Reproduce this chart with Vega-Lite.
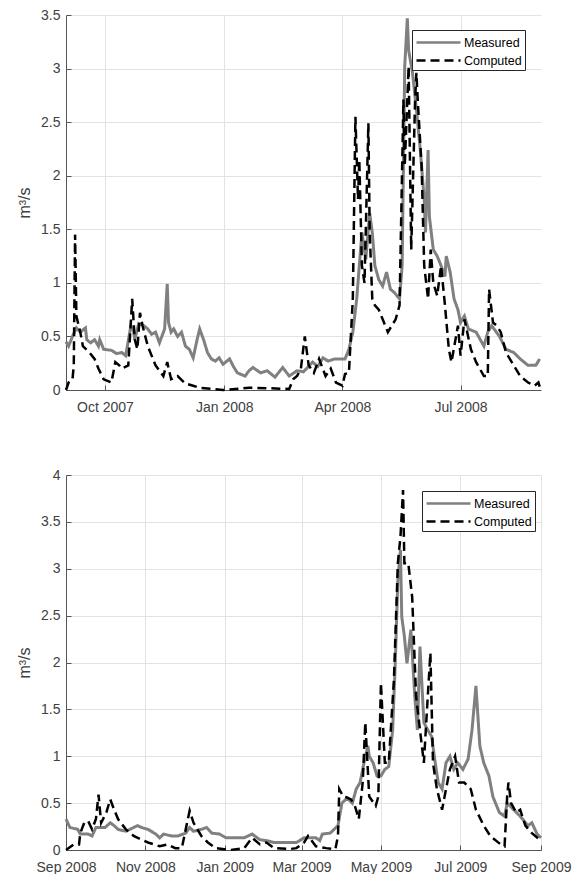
{
"$schema":"https://vega.github.io/schema/vega-lite/v6.json",
"background":"white",
"padding":{"left":16,"top":8,"right":10,"bottom":4},
"bounds":"flush",
"spacing":85,
"config":{"font":"Liberation Sans","view":{"stroke":null},
"axis":{"labelFont":"Liberation Sans","labelFontSize":14,"labelColor":"#404040","titleFont":"Liberation Sans","titleFontSize":16,"titleFontWeight":"normal","titleColor":"#404040","domainColor":"#555555","tickColor":"#555555","gridColor":"#e3e3e3","tickSize":-5,"labelFlush":false,"labelOverlap":false},
"legend":{"orient":"none","title":null,"strokeColor":"#262626","fillColor":"white","padding":3,"symbolType":"M-1,0H4.5","symbolSize":256,"symbolStrokeWidth":2.5,"labelFontSize":12.5,"labelColor":"#000000","rowPadding":2,"labelOffset":30}},
"datasets":{
"top":[
{"d":"2007-09-01","s":"Measured","v":0.45},{"d":"2007-09-03","s":"Measured","v":0.41},{"d":"2007-09-06","s":"Measured","v":0.5},{"d":"2007-09-09","s":"Measured","v":0.58},{"d":"2007-09-12","s":"Measured","v":0.54},{"d":"2007-09-16","s":"Measured","v":0.58},{"d":"2007-09-17","s":"Measured","v":0.47},{"d":"2007-09-20","s":"Measured","v":0.44},{"d":"2007-09-23","s":"Measured","v":0.47},{"d":"2007-09-26","s":"Measured","v":0.41},{"d":"2007-09-27","s":"Measured","v":0.47},{"d":"2007-09-30","s":"Measured","v":0.38},{"d":"2007-10-06","s":"Measured","v":0.37},{"d":"2007-10-10","s":"Measured","v":0.34},{"d":"2007-10-14","s":"Measured","v":0.35},{"d":"2007-10-17","s":"Measured","v":0.32},{"d":"2007-10-21","s":"Measured","v":0.6},{"d":"2007-10-23","s":"Measured","v":0.55},{"d":"2007-10-24","s":"Measured","v":0.47},{"d":"2007-10-27","s":"Measured","v":0.62},{"d":"2007-10-31","s":"Measured","v":0.6},{"d":"2007-11-03","s":"Measured","v":0.57},{"d":"2007-11-06","s":"Measured","v":0.52},{"d":"2007-11-09","s":"Measured","v":0.54},{"d":"2007-11-12","s":"Measured","v":0.44},{"d":"2007-11-16","s":"Measured","v":0.57},{"d":"2007-11-18","s":"Measured","v":0.99},{"d":"2007-11-19","s":"Measured","v":0.63},{"d":"2007-11-21","s":"Measured","v":0.54},{"d":"2007-11-23","s":"Measured","v":0.57},{"d":"2007-11-26","s":"Measured","v":0.5},{"d":"2007-11-29","s":"Measured","v":0.54},{"d":"2007-12-02","s":"Measured","v":0.41},{"d":"2007-12-05","s":"Measured","v":0.38},{"d":"2007-12-08","s":"Measured","v":0.3},{"d":"2007-12-11","s":"Measured","v":0.47},{"d":"2007-12-13","s":"Measured","v":0.57},{"d":"2007-12-16","s":"Measured","v":0.47},{"d":"2007-12-19","s":"Measured","v":0.35},{"d":"2007-12-22","s":"Measured","v":0.29},{"d":"2007-12-25","s":"Measured","v":0.27},{"d":"2007-12-28","s":"Measured","v":0.3},{"d":"2007-12-31","s":"Measured","v":0.24},{"d":"2008-01-05","s":"Measured","v":0.29},{"d":"2008-01-08","s":"Measured","v":0.22},{"d":"2008-01-11","s":"Measured","v":0.16},{"d":"2008-01-17","s":"Measured","v":0.13},{"d":"2008-01-20","s":"Measured","v":0.18},{"d":"2008-01-23","s":"Measured","v":0.21},{"d":"2008-01-29","s":"Measured","v":0.16},{"d":"2008-02-03","s":"Measured","v":0.18},{"d":"2008-02-09","s":"Measured","v":0.12},{"d":"2008-02-15","s":"Measured","v":0.21},{"d":"2008-02-20","s":"Measured","v":0.13},{"d":"2008-02-26","s":"Measured","v":0.18},{"d":"2008-03-02","s":"Measured","v":0.17},{"d":"2008-03-09","s":"Measured","v":0.26},{"d":"2008-03-13","s":"Measured","v":0.22},{"d":"2008-03-17","s":"Measured","v":0.3},{"d":"2008-03-21","s":"Measured","v":0.27},{"d":"2008-03-26","s":"Measured","v":0.29},{"d":"2008-04-03","s":"Measured","v":0.29},{"d":"2008-04-06","s":"Measured","v":0.38},{"d":"2008-04-09","s":"Measured","v":0.54},{"d":"2008-04-12","s":"Measured","v":0.85},{"d":"2008-04-14","s":"Measured","v":1.16},{"d":"2008-04-16","s":"Measured","v":1.47},{"d":"2008-04-19","s":"Measured","v":1.22},{"d":"2008-04-22","s":"Measured","v":1.65},{"d":"2008-04-24","s":"Measured","v":1.47},{"d":"2008-04-26","s":"Measured","v":1.16},{"d":"2008-04-29","s":"Measured","v":1.03},{"d":"2008-05-02","s":"Measured","v":0.97},{"d":"2008-05-05","s":"Measured","v":1.1},{"d":"2008-05-08","s":"Measured","v":0.94},{"d":"2008-05-11","s":"Measured","v":0.91},{"d":"2008-05-15","s":"Measured","v":0.85},{"d":"2008-05-17","s":"Measured","v":1.16},{"d":"2008-05-18","s":"Measured","v":2.09},{"d":"2008-05-19","s":"Measured","v":3.02},{"d":"2008-05-21","s":"Measured","v":3.47},{"d":"2008-05-22","s":"Measured","v":3.17},{"d":"2008-05-25","s":"Measured","v":2.96},{"d":"2008-05-28","s":"Measured","v":2.62},{"d":"2008-05-31","s":"Measured","v":2.24},{"d":"2008-06-03","s":"Measured","v":1.78},{"d":"2008-06-04","s":"Measured","v":1.47},{"d":"2008-06-06","s":"Measured","v":2.24},{"d":"2008-06-07","s":"Measured","v":1.62},{"d":"2008-06-10","s":"Measured","v":1.31},{"d":"2008-06-13","s":"Measured","v":1.25},{"d":"2008-06-16","s":"Measured","v":1.16},{"d":"2008-06-19","s":"Measured","v":1.06},{"d":"2008-06-20","s":"Measured","v":1.25},{"d":"2008-06-23","s":"Measured","v":1.1},{"d":"2008-06-26","s":"Measured","v":0.85},{"d":"2008-06-29","s":"Measured","v":0.75},{"d":"2008-07-01","s":"Measured","v":0.63},{"d":"2008-07-04","s":"Measured","v":0.69},{"d":"2008-07-07","s":"Measured","v":0.57},{"d":"2008-07-13","s":"Measured","v":0.54},{"d":"2008-07-19","s":"Measured","v":0.41},{"d":"2008-07-22","s":"Measured","v":0.54},{"d":"2008-07-25","s":"Measured","v":0.6},{"d":"2008-07-31","s":"Measured","v":0.5},{"d":"2008-08-05","s":"Measured","v":0.38},{"d":"2008-08-11","s":"Measured","v":0.35},{"d":"2008-08-16","s":"Measured","v":0.29},{"d":"2008-08-22","s":"Measured","v":0.23},{"d":"2008-08-28","s":"Measured","v":0.23},{"d":"2008-08-31","s":"Measured","v":0.29},
{"d":"2007-09-01","s":"Computed","v":0},{"d":"2007-09-03","s":"Computed","v":0.07},{"d":"2007-09-06","s":"Computed","v":0.1},{"d":"2007-09-07","s":"Computed","v":0.23},{"d":"2007-09-08","s":"Computed","v":1.45},{"d":"2007-09-09","s":"Computed","v":0.69},{"d":"2007-09-12","s":"Computed","v":0.54},{"d":"2007-09-14","s":"Computed","v":0.41},{"d":"2007-09-19","s":"Computed","v":0.35},{"d":"2007-09-23","s":"Computed","v":0.29},{"d":"2007-09-26","s":"Computed","v":0.2},{"d":"2007-09-30","s":"Computed","v":0.1},{"d":"2007-10-06","s":"Computed","v":0.07},{"d":"2007-10-09","s":"Computed","v":0.26},{"d":"2007-10-12","s":"Computed","v":0.23},{"d":"2007-10-14","s":"Computed","v":0.2},{"d":"2007-10-19","s":"Computed","v":0.23},{"d":"2007-10-22","s":"Computed","v":0.85},{"d":"2007-10-24","s":"Computed","v":0.47},{"d":"2007-10-26","s":"Computed","v":0.38},{"d":"2007-10-28","s":"Computed","v":0.72},{"d":"2007-10-30","s":"Computed","v":0.6},{"d":"2007-11-03","s":"Computed","v":0.41},{"d":"2007-11-09","s":"Computed","v":0.23},{"d":"2007-11-15","s":"Computed","v":0.13},{"d":"2007-11-18","s":"Computed","v":0.26},{"d":"2007-11-21","s":"Computed","v":0.1},{"d":"2007-11-26","s":"Computed","v":0.13},{"d":"2007-12-02","s":"Computed","v":0.06},{"d":"2007-12-08","s":"Computed","v":0.04},{"d":"2007-12-13","s":"Computed","v":0.02},{"d":"2007-12-31","s":"Computed","v":0},{"d":"2008-01-20","s":"Computed","v":0.02},{"d":"2008-01-26","s":"Computed","v":0.02},{"d":"2008-02-20","s":"Computed","v":0.01},{"d":"2008-02-23","s":"Computed","v":0.1},{"d":"2008-02-26","s":"Computed","v":0.13},{"d":"2008-02-29","s":"Computed","v":0.2},{"d":"2008-03-03","s":"Computed","v":0.5},{"d":"2008-03-06","s":"Computed","v":0.23},{"d":"2008-03-10","s":"Computed","v":0.16},{"d":"2008-03-14","s":"Computed","v":0.29},{"d":"2008-03-19","s":"Computed","v":0.13},{"d":"2008-03-23","s":"Computed","v":0.2},{"d":"2008-03-27","s":"Computed","v":0.07},{"d":"2008-04-01","s":"Computed","v":0.04},{"d":"2008-04-03","s":"Computed","v":0.15},{"d":"2008-04-06","s":"Computed","v":0.16},{"d":"2008-04-09","s":"Computed","v":0.85},{"d":"2008-04-11","s":"Computed","v":2.55},{"d":"2008-04-13","s":"Computed","v":1.78},{"d":"2008-04-14","s":"Computed","v":2.15},{"d":"2008-04-16","s":"Computed","v":1.16},{"d":"2008-04-18","s":"Computed","v":1.0},{"d":"2008-04-21","s":"Computed","v":2.49},{"d":"2008-04-22","s":"Computed","v":1.47},{"d":"2008-04-24","s":"Computed","v":0.85},{"d":"2008-04-26","s":"Computed","v":0.79},{"d":"2008-04-29","s":"Computed","v":0.75},{"d":"2008-05-02","s":"Computed","v":0.66},{"d":"2008-05-06","s":"Computed","v":0.54},{"d":"2008-05-09","s":"Computed","v":0.6},{"d":"2008-05-12","s":"Computed","v":0.66},{"d":"2008-05-15","s":"Computed","v":0.79},{"d":"2008-05-18","s":"Computed","v":2.71},{"d":"2008-05-19","s":"Computed","v":2.09},{"d":"2008-05-22","s":"Computed","v":3.02},{"d":"2008-05-24","s":"Computed","v":1.31},{"d":"2008-05-27","s":"Computed","v":2.71},{"d":"2008-05-28","s":"Computed","v":2.96},{"d":"2008-05-29","s":"Computed","v":2.71},{"d":"2008-06-01","s":"Computed","v":2.09},{"d":"2008-06-03","s":"Computed","v":1.16},{"d":"2008-06-06","s":"Computed","v":0.85},{"d":"2008-06-08","s":"Computed","v":1.31},{"d":"2008-06-10","s":"Computed","v":1.0},{"d":"2008-06-13","s":"Computed","v":0.88},{"d":"2008-06-16","s":"Computed","v":1.16},{"d":"2008-06-19","s":"Computed","v":0.79},{"d":"2008-06-22","s":"Computed","v":0.38},{"d":"2008-06-24","s":"Computed","v":0.26},{"d":"2008-06-29","s":"Computed","v":0.6},{"d":"2008-07-01","s":"Computed","v":0.32},{"d":"2008-07-04","s":"Computed","v":0.66},{"d":"2008-07-09","s":"Computed","v":0.38},{"d":"2008-07-13","s":"Computed","v":0.26},{"d":"2008-07-19","s":"Computed","v":0.13},{"d":"2008-07-22","s":"Computed","v":0.13},{"d":"2008-07-23","s":"Computed","v":0.94},{"d":"2008-07-26","s":"Computed","v":0.63},{"d":"2008-07-29","s":"Computed","v":0.6},{"d":"2008-08-01","s":"Computed","v":0.54},{"d":"2008-08-05","s":"Computed","v":0.35},{"d":"2008-08-11","s":"Computed","v":0.23},{"d":"2008-08-16","s":"Computed","v":0.13},{"d":"2008-08-22","s":"Computed","v":0.07},{"d":"2008-08-27","s":"Computed","v":0.04},{"d":"2008-08-30","s":"Computed","v":0.07},{"d":"2008-08-31","s":"Computed","v":0.03}
],
"bot":[
{"d":"2008-09-01","s":"Measured","v":0.33},{"d":"2008-09-04","s":"Measured","v":0.24},{"d":"2008-09-10","s":"Measured","v":0.22},{"d":"2008-09-12","s":"Measured","v":0.17},{"d":"2008-09-18","s":"Measured","v":0.17},{"d":"2008-09-21","s":"Measured","v":0.15},{"d":"2008-09-24","s":"Measured","v":0.24},{"d":"2008-09-27","s":"Measured","v":0.24},{"d":"2008-10-01","s":"Measured","v":0.24},{"d":"2008-10-05","s":"Measured","v":0.29},{"d":"2008-10-08","s":"Measured","v":0.26},{"d":"2008-10-11","s":"Measured","v":0.22},{"d":"2008-10-17","s":"Measured","v":0.2},{"d":"2008-10-23","s":"Measured","v":0.24},{"d":"2008-10-26","s":"Measured","v":0.26},{"d":"2008-10-29","s":"Measured","v":0.24},{"d":"2008-11-03","s":"Measured","v":0.22},{"d":"2008-11-09","s":"Measured","v":0.17},{"d":"2008-11-12","s":"Measured","v":0.13},{"d":"2008-11-15","s":"Measured","v":0.17},{"d":"2008-11-21","s":"Measured","v":0.15},{"d":"2008-11-26","s":"Measured","v":0.15},{"d":"2008-12-02","s":"Measured","v":0.18},{"d":"2008-12-05","s":"Measured","v":0.24},{"d":"2008-12-08","s":"Measured","v":0.2},{"d":"2008-12-14","s":"Measured","v":0.22},{"d":"2008-12-18","s":"Measured","v":0.24},{"d":"2008-12-22","s":"Measured","v":0.18},{"d":"2008-12-28","s":"Measured","v":0.17},{"d":"2009-01-02","s":"Measured","v":0.13},{"d":"2009-01-10","s":"Measured","v":0.13},{"d":"2009-01-16","s":"Measured","v":0.13},{"d":"2009-01-22","s":"Measured","v":0.17},{"d":"2009-01-28","s":"Measured","v":0.11},{"d":"2009-02-02","s":"Measured","v":0.1},{"d":"2009-02-08","s":"Measured","v":0.08},{"d":"2009-02-14","s":"Measured","v":0.08},{"d":"2009-02-25","s":"Measured","v":0.08},{"d":"2009-03-03","s":"Measured","v":0.13},{"d":"2009-03-12","s":"Measured","v":0.13},{"d":"2009-03-15","s":"Measured","v":0.1},{"d":"2009-03-17","s":"Measured","v":0.17},{"d":"2009-03-23","s":"Measured","v":0.18},{"d":"2009-03-26","s":"Measured","v":0.22},{"d":"2009-03-29","s":"Measured","v":0.26},{"d":"2009-04-01","s":"Measured","v":0.5},{"d":"2009-04-04","s":"Measured","v":0.54},{"d":"2009-04-06","s":"Measured","v":0.54},{"d":"2009-04-09","s":"Measured","v":0.5},{"d":"2009-04-12","s":"Measured","v":0.65},{"d":"2009-04-15","s":"Measured","v":0.72},{"d":"2009-04-18","s":"Measured","v":0.93},{"d":"2009-04-21","s":"Measured","v":1.11},{"d":"2009-04-22","s":"Measured","v":1.0},{"d":"2009-04-25","s":"Measured","v":0.93},{"d":"2009-04-28","s":"Measured","v":0.79},{"d":"2009-05-01","s":"Measured","v":0.79},{"d":"2009-05-04","s":"Measured","v":0.86},{"d":"2009-05-07","s":"Measured","v":0.89},{"d":"2009-05-10","s":"Measured","v":1.28},{"d":"2009-05-12","s":"Measured","v":1.99},{"d":"2009-05-14","s":"Measured","v":2.88},{"d":"2009-05-16","s":"Measured","v":3.2},{"d":"2009-05-17","s":"Measured","v":2.49},{"d":"2009-05-19","s":"Measured","v":2.28},{"d":"2009-05-21","s":"Measured","v":1.99},{"d":"2009-05-24","s":"Measured","v":2.35},{"d":"2009-05-27","s":"Measured","v":1.64},{"d":"2009-05-29","s":"Measured","v":1.28},{"d":"2009-05-31","s":"Measured","v":2.17},{"d":"2009-06-03","s":"Measured","v":1.36},{"d":"2009-06-06","s":"Measured","v":1.28},{"d":"2009-06-09","s":"Measured","v":1.21},{"d":"2009-06-11","s":"Measured","v":1.0},{"d":"2009-06-14","s":"Measured","v":0.72},{"d":"2009-06-17","s":"Measured","v":0.65},{"d":"2009-06-20","s":"Measured","v":0.93},{"d":"2009-06-23","s":"Measured","v":1.0},{"d":"2009-06-26","s":"Measured","v":0.86},{"d":"2009-06-29","s":"Measured","v":0.93},{"d":"2009-07-03","s":"Measured","v":0.86},{"d":"2009-07-07","s":"Measured","v":0.97},{"d":"2009-07-10","s":"Measured","v":1.28},{"d":"2009-07-13","s":"Measured","v":1.75},{"d":"2009-07-16","s":"Measured","v":1.11},{"d":"2009-07-19","s":"Measured","v":0.93},{"d":"2009-07-23","s":"Measured","v":0.79},{"d":"2009-07-26","s":"Measured","v":0.57},{"d":"2009-07-31","s":"Measured","v":0.4},{"d":"2009-08-04","s":"Measured","v":0.36},{"d":"2009-08-06","s":"Measured","v":0.5},{"d":"2009-08-11","s":"Measured","v":0.43},{"d":"2009-08-16","s":"Measured","v":0.36},{"d":"2009-08-22","s":"Measured","v":0.26},{"d":"2009-08-25","s":"Measured","v":0.29},{"d":"2009-08-29","s":"Measured","v":0.17},{"d":"2009-09-01","s":"Measured","v":0.13},
{"d":"2008-09-01","s":"Computed","v":0},{"d":"2008-09-07","s":"Computed","v":0.06},{"d":"2008-09-11","s":"Computed","v":0.06},{"d":"2008-09-12","s":"Computed","v":0.18},{"d":"2008-09-15","s":"Computed","v":0.29},{"d":"2008-09-18","s":"Computed","v":0.31},{"d":"2008-09-21","s":"Computed","v":0.22},{"d":"2008-09-24","s":"Computed","v":0.33},{"d":"2008-09-26","s":"Computed","v":0.59},{"d":"2008-09-28","s":"Computed","v":0.29},{"d":"2008-10-02","s":"Computed","v":0.4},{"d":"2008-10-05","s":"Computed","v":0.54},{"d":"2008-10-08","s":"Computed","v":0.43},{"d":"2008-10-11","s":"Computed","v":0.33},{"d":"2008-10-17","s":"Computed","v":0.22},{"d":"2008-10-23","s":"Computed","v":0.15},{"d":"2008-10-29","s":"Computed","v":0.11},{"d":"2008-11-03","s":"Computed","v":0.08},{"d":"2008-11-12","s":"Computed","v":0.04},{"d":"2008-11-18","s":"Computed","v":0.06},{"d":"2008-11-24","s":"Computed","v":0.02},{"d":"2008-11-29","s":"Computed","v":0.02},{"d":"2008-12-02","s":"Computed","v":0.22},{"d":"2008-12-05","s":"Computed","v":0.42},{"d":"2008-12-08","s":"Computed","v":0.29},{"d":"2008-12-14","s":"Computed","v":0.15},{"d":"2008-12-19","s":"Computed","v":0.08},{"d":"2008-12-25","s":"Computed","v":0.02},{"d":"2009-01-05","s":"Computed","v":0},{"d":"2009-01-16","s":"Computed","v":0.02},{"d":"2009-01-22","s":"Computed","v":0.13},{"d":"2009-01-28","s":"Computed","v":0.06},{"d":"2009-02-02","s":"Computed","v":0.08},{"d":"2009-02-08","s":"Computed","v":0.02},{"d":"2009-02-20","s":"Computed","v":0.01},{"d":"2009-02-25","s":"Computed","v":0.02},{"d":"2009-03-03","s":"Computed","v":0.08},{"d":"2009-03-06","s":"Computed","v":0.15},{"d":"2009-03-12","s":"Computed","v":0.04},{"d":"2009-03-20","s":"Computed","v":0.02},{"d":"2009-03-27","s":"Computed","v":0.01},{"d":"2009-03-29","s":"Computed","v":0.15},{"d":"2009-03-30","s":"Computed","v":0.65},{"d":"2009-04-02","s":"Computed","v":0.57},{"d":"2009-04-05","s":"Computed","v":0.56},{"d":"2009-04-08","s":"Computed","v":0.54},{"d":"2009-04-11","s":"Computed","v":0.47},{"d":"2009-04-14","s":"Computed","v":0.33},{"d":"2009-04-17","s":"Computed","v":0.72},{"d":"2009-04-19","s":"Computed","v":1.36},{"d":"2009-04-22","s":"Computed","v":0.57},{"d":"2009-04-27","s":"Computed","v":0.47},{"d":"2009-04-29","s":"Computed","v":0.57},{"d":"2009-05-01","s":"Computed","v":1.78},{"d":"2009-05-04","s":"Computed","v":0.93},{"d":"2009-05-07","s":"Computed","v":0.93},{"d":"2009-05-11","s":"Computed","v":1.82},{"d":"2009-05-14","s":"Computed","v":3.06},{"d":"2009-05-16","s":"Computed","v":3.34},{"d":"2009-05-18","s":"Computed","v":3.84},{"d":"2009-05-19","s":"Computed","v":3.06},{"d":"2009-05-22","s":"Computed","v":3.06},{"d":"2009-05-25","s":"Computed","v":2.7},{"d":"2009-05-28","s":"Computed","v":1.64},{"d":"2009-05-31","s":"Computed","v":1.28},{"d":"2009-06-03","s":"Computed","v":0.93},{"d":"2009-06-06","s":"Computed","v":1.64},{"d":"2009-06-08","s":"Computed","v":2.1},{"d":"2009-06-10","s":"Computed","v":0.93},{"d":"2009-06-13","s":"Computed","v":0.65},{"d":"2009-06-17","s":"Computed","v":0.43},{"d":"2009-06-20","s":"Computed","v":0.65},{"d":"2009-06-23","s":"Computed","v":0.86},{"d":"2009-06-27","s":"Computed","v":1.0},{"d":"2009-06-30","s":"Computed","v":0.72},{"d":"2009-07-04","s":"Computed","v":0.72},{"d":"2009-07-09","s":"Computed","v":0.65},{"d":"2009-07-13","s":"Computed","v":0.43},{"d":"2009-07-19","s":"Computed","v":0.26},{"d":"2009-07-24","s":"Computed","v":0.15},{"d":"2009-08-01","s":"Computed","v":0.06},{"d":"2009-08-04","s":"Computed","v":0.04},{"d":"2009-08-06","s":"Computed","v":0.57},{"d":"2009-08-07","s":"Computed","v":0.72},{"d":"2009-08-09","s":"Computed","v":0.5},{"d":"2009-08-13","s":"Computed","v":0.4},{"d":"2009-08-16","s":"Computed","v":0.43},{"d":"2009-08-20","s":"Computed","v":0.26},{"d":"2009-08-25","s":"Computed","v":0.18},{"d":"2009-09-01","s":"Computed","v":0.1}
]},
"resolve":{"scale":{"x":"independent","y":"independent","color":"independent","strokeDash":"independent"},"legend":{"color":"independent","strokeDash":"independent"}},
"vconcat":[
{"width":475,"height":375,"data":{"name":"top"},
"encoding":{
"x":{"field":"d","type":"temporal","scale":{"type":"utc","domain":[{"year":2007,"month":9,"date":1,"utc":true},{"year":2008,"month":9,"date":1,"utc":true}]},"axis":{"title":null,"format":"%b %Y","labelPadding":15,"values":[{"year":2007,"month":10,"date":1,"utc":true},{"year":2008,"month":1,"date":1,"utc":true},{"year":2008,"month":4,"date":1,"utc":true},{"year":2008,"month":7,"date":1,"utc":true}]}},
"y":{"field":"v","type":"quantitative","scale":{"domain":[0,3.5]},"axis":{"title":"m³/s","format":"~g","labelPadding":11,"titlePadding":8,"values":[0,0.5,1,1.5,2,2.5,3,3.5]}},
"color":{"field":"s","type":"nominal","scale":{"domain":["Measured","Computed"],"range":["#808080","#000000"]},"legend":{"legendX":346,"legendY":15}},
"strokeDash":{"field":"s","type":"nominal","scale":{"domain":["Measured","Computed"],"range":[[1,0],[9,5]]},"legend":{"legendX":346,"legendY":15}}},
"layer":[
{"transform":[{"filter":"datum.s==='Measured'"}],"mark":{"type":"line","strokeWidth":3}},
{"transform":[{"filter":"datum.s==='Computed'"}],"mark":{"type":"line","strokeWidth":2.5}}]},
{"width":475,"height":375,"data":{"name":"bot"},
"encoding":{
"x":{"field":"d","type":"temporal","scale":{"type":"utc","domain":[{"year":2008,"month":9,"date":1,"utc":true},{"year":2009,"month":9,"date":1,"utc":true}]},"axis":{"title":null,"format":"%b %Y","labelPadding":15,"values":[{"year":2008,"month":9,"date":1,"utc":true},{"year":2008,"month":11,"date":1,"utc":true},{"year":2009,"month":1,"date":1,"utc":true},{"year":2009,"month":3,"date":1,"utc":true},{"year":2009,"month":5,"date":1,"utc":true},{"year":2009,"month":7,"date":1,"utc":true},{"year":2009,"month":9,"date":1,"utc":true}]}},
"y":{"field":"v","type":"quantitative","scale":{"domain":[0,4]},"axis":{"title":"m³/s","format":"~g","labelPadding":11,"titlePadding":8,"values":[0,0.5,1,1.5,2,2.5,3,3.5,4]}},
"color":{"field":"s","type":"nominal","scale":{"domain":["Measured","Computed"],"range":["#808080","#000000"]},"legend":{"legendX":356,"legendY":16}},
"strokeDash":{"field":"s","type":"nominal","scale":{"domain":["Measured","Computed"],"range":[[1,0],[9,5]]},"legend":{"legendX":356,"legendY":16}}},
"layer":[
{"transform":[{"filter":"datum.s==='Measured'"}],"mark":{"type":"line","strokeWidth":3}},
{"transform":[{"filter":"datum.s==='Computed'"}],"mark":{"type":"line","strokeWidth":2.5}}]}
]
}
